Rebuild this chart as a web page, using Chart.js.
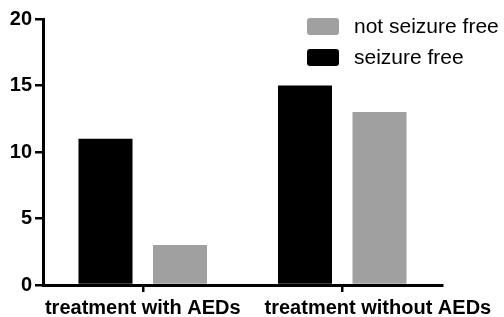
<!DOCTYPE html>
<html lang="en">
<head>
    <meta charset="UTF-8">
    <title>Seizure outcome by treatment</title>
    <script src="https://cdn.jsdelivr.net/npm/chart.js"></script>
    <style>
        html, body { margin: 0; padding: 0; background: #fff; }
        .chart-container { width: 504px; height: 317px; position: relative; }
    </style>
</head>
<body>
    <div class="chart-container">
        <canvas id="seizureChart"></canvas>
    </div>

    <script>
        // data
        const categories = ['treatment with AEDs', 'treatment without AEDs'];
        const seizureFree = [11, 15];
        const notSeizureFree = [3, 13];
        const yTicks = [0, 5, 10, 15, 20];

        const colBlack = '#000000';
        const colGray = '#a0a0a0';
        const fontFam = '"Liberation Sans", Arial, sans-serif';

        // legend drawn inside the plot, top right, gray entry first
        const boxLegend = {
            id: 'boxLegend',
            afterDraw(chart) {
                const ctx = chart.ctx;
                const items = chart.data.datasets.slice().reverse();
                ctx.save();
                ctx.font = '21px ' + fontFam;
                ctx.textBaseline = 'middle';
                items.forEach((ds, i) => {
                    const y = 18 + i * 31;
                    ctx.fillStyle = ds.backgroundColor;
                    ctx.beginPath();
                    ctx.roundRect(307, y, 32, 17, 3);
                    ctx.fill();
                    ctx.fillStyle = '#000';
                    ctx.fillText(ds.label, 354, y + 9);
                });
                ctx.restore();
            }
        };

        // category labels: centred under ticks, pushed right when they would collide
        const xLabels = {
            id: 'xLabels',
            afterDraw(chart) {
                const ctx = chart.ctx;
                const sc = chart.scales.x;
                ctx.save();
                ctx.font = 'bold 20px ' + fontFam;
                ctx.fillStyle = '#000';
                ctx.textBaseline = 'alphabetic';
                ctx.textAlign = 'left';
                let prevRight = -Infinity;
                sc.ticks.forEach((t, i) => {
                    const txt = chart.data.labels[i];
                    const w = ctx.measureText(txt).width;
                    let left = sc.getPixelForTick(i) - w / 2;
                    if (left < prevRight + 24) left = prevRight + 24;
                    ctx.fillText(txt, left, 314);
                    prevRight = left + w;
                });
                ctx.restore();
            }
        };

        new Chart(document.getElementById('seizureChart'), {
            type: 'bar',
            data: {
                labels: categories,
                datasets: [
                    { label: 'seizure free', data: seizureFree, backgroundColor: colBlack },
                    { label: 'not seizure free', data: notSeizureFree, backgroundColor: colGray }
                ]
            },
            options: {
                responsive: true,
                maintainAspectRatio: false,
                animation: false,
                categoryPercentage: 0.747,
                barPercentage: 0.725,
                layout: { padding: { top: 19, right: 62, left: 0, bottom: 0 } },
                plugins: {
                    legend: { display: false },
                    tooltip: { enabled: false }
                },
                scales: {
                    x: {
                        grid: { offset: false, drawOnChartArea: false, tickLength: 7, color: '#000', lineWidth: 2.5 },
                        border: { color: '#000', width: 3 },
                        ticks: { display: false, autoSkip: false },
                        afterFit(scale) { scale.height = 32; }
                    },
                    y: {
                        min: 0,
                        max: 20,
                        afterBuildTicks(scale) { scale.ticks = yTicks.map(v => ({ value: v })); },
                        grid: { drawOnChartArea: false, tickLength: 8, color: '#000', lineWidth: 2.5 },
                        border: { color: '#000', width: 3 },
                        ticks: {
                            color: '#000',
                            padding: 3,
                            font: { family: fontFam, size: 20, weight: 'bold' }
                        },
                        afterFit(scale) { scale.width = 43; }
                    }
                }
            },
            plugins: [boxLegend, xLabels]
        });
    </script>
</body>
</html>
